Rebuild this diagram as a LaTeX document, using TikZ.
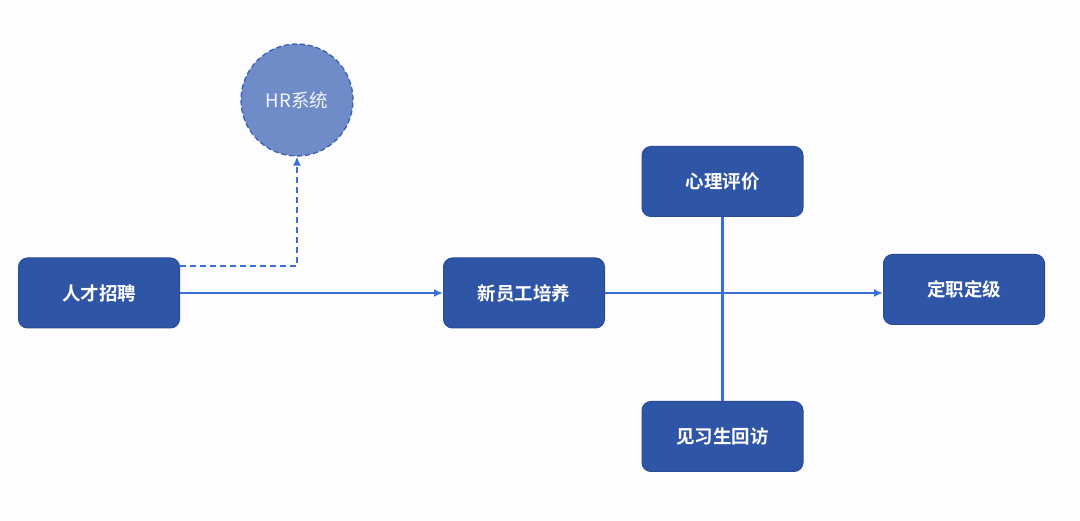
\documentclass[tikz,border=0pt]{standalone}
\usepackage{fontspec}
\newfontfamily\cjk{Noto Sans CJK SC}[BoldFont={Noto Sans CJK SC Bold}]
\usetikzlibrary{arrows.meta}
\definecolor{boxblue}{HTML}{2F56A6}
\definecolor{boxedge}{HTML}{2A4C94}
\definecolor{lineblue}{HTML}{3B6FD6}
\definecolor{hrfill}{HTML}{6F8CC8}
\definecolor{hredge}{HTML}{3A60B4}
\tikzset{
  stagebox/.style={draw=boxedge, line width=1pt, fill=boxblue, rounded corners=9pt,
    minimum width=161pt, minimum height=70pt, text=white, font=\cjk\bfseries\fontsize{18.5}{22}\selectfont},
  hrcircle/.style={circle, draw=hredge, dash pattern=on 5pt off 3pt, line width=1.3pt, fill=hrfill,
    minimum size=112pt, text=white!92!hrfill, font=\cjk\fontsize{18.5}{22}\selectfont},
  flow/.style={draw=lineblue, line width=2.2pt, -{Latex[length=9pt,width=8pt]}},
  plainline/.style={draw=lineblue, line width=2.2pt}
}
\begin{document}
\begin{tikzpicture}[x=1pt, y=-1pt]
\fill[white!99.4!blue] (0, 0) rectangle (1080, 521);
\useasboundingbox (0, 0) rectangle (1080, 521);
\node[hrcircle] (hr) at (297, 100) {HR系统};
\node[stagebox] (recruit) at (99, 293) {人才招聘};
\node[stagebox] (train) at (524, 293) {新员工培养};
\node[stagebox] (psych) at (722.5, 181.5) {心理评价};
\node[stagebox] (visit) at (722.5, 436.5) {见习生回访};
\node[stagebox] (grade) at (964, 289.5) {定职定级};
\coordinate (hrbend) at (297, 266);
\draw[plainline] (psych.south) -- (visit.north);
\draw[flow] (recruit.east) -- (train.west);
\draw[flow] (train.east) -- (train.east -| grade.west);
\draw[flow, dash pattern=on 6pt off 4pt, line width=1.6pt] (recruit.east |- hrbend) -- (hrbend) -- (hr.south);
\end{tikzpicture}
\end{document}
